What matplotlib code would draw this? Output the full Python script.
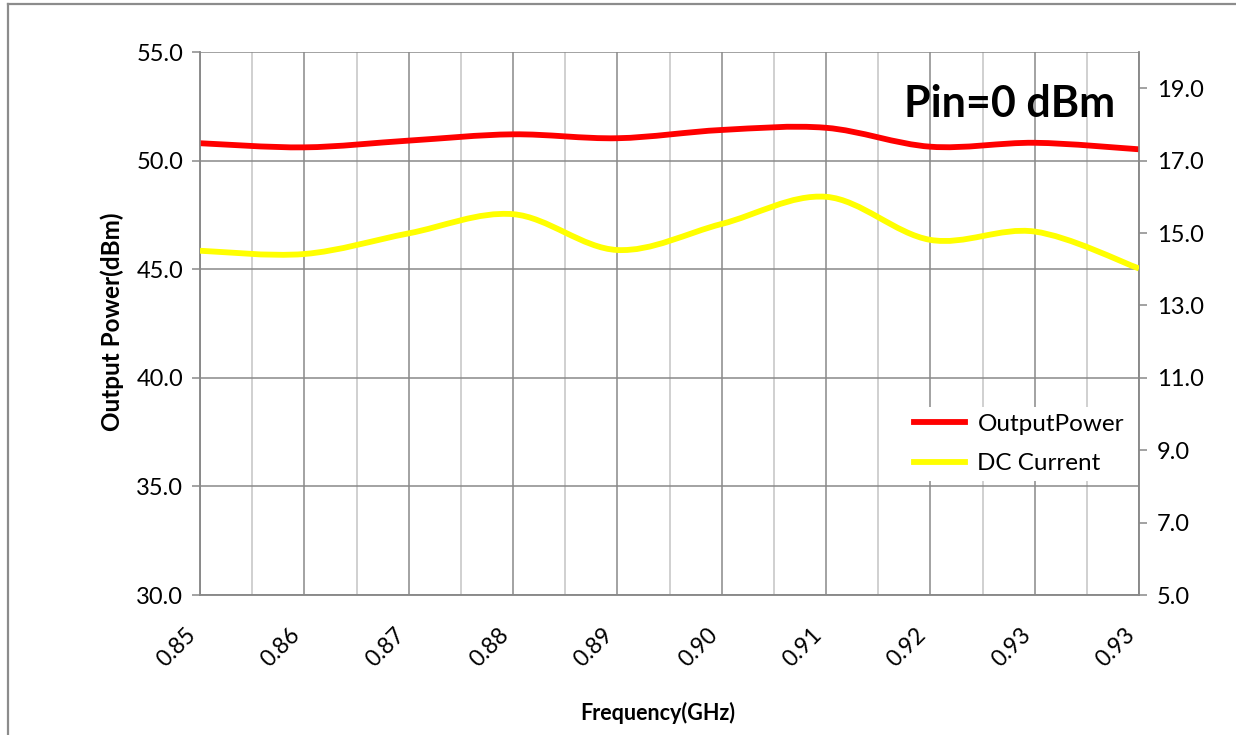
import matplotlib.pyplot as plt
import numpy as np
from matplotlib.path import Path
from matplotlib.patches import PathPatch
from matplotlib.lines import Line2D

# data
freq_labels = ['0.85', '0.86', '0.87', '0.88', '0.89', '0.90', '0.91', '0.92', '0.93', '0.93']
output_power = [50.80, 50.61, 50.92, 51.21, 51.03, 51.41, 51.51, 50.64, 50.82, 50.52]
dc_current = [14.51, 14.42, 14.99, 15.52, 14.53, 15.25, 16.00, 14.81, 15.04, 14.02]

plt.rcParams['font.family'] = ['Lato', 'DejaVu Sans']

MAJOR = '#898989'
MINOR = '#c4c4c4'


def smooth_path(xs, ys):
    # Excel style smoothed line: cubic bezier through the points
    pts = np.column_stack([xs, ys]).astype(float)
    n = len(pts)
    verts = [pts[0]]
    codes = [Path.MOVETO]
    for i in range(n - 1):
        p0 = pts[max(i - 1, 0)]
        p1 = pts[i]
        p2 = pts[i + 1]
        p3 = pts[min(i + 2, n - 1)]
        c1 = p1 + (p2 - p0) / 6.0
        c2 = p2 - (p3 - p1) / 6.0
        verts += [c1, c2, p2]
        codes += [Path.CURVE4] * 3
    return Path(verts, codes)


fig = plt.figure(figsize=(12.36, 7.35), dpi=100)
ax = fig.add_axes([200 / 1236, 140 / 735, 939 / 1236, 543 / 735])
ax2 = ax.twinx()

x = np.arange(len(freq_labels))

ax.set_xlim(0, len(freq_labels) - 1)
ax.set_ylim(30, 55)
ax2.set_ylim(5, 20)

ax.set_xticks(x)
ax.set_xticks(x[:-1] + 0.5, minor=True)
ax.set_xticklabels(freq_labels, rotation=45, ha='right', va='top')
ax.set_yticks(np.arange(30, 56, 5))
ax.set_yticklabels(['%.1f' % v for v in np.arange(30, 56, 5)])
ax2.set_yticks(np.arange(5, 20, 2))
ax2.set_yticklabels(['%.1f' % v for v in np.arange(5, 20, 2)])

# grid
ax.grid(True, which='major', axis='both', color=MAJOR, linewidth=1.1)
ax.grid(True, which='minor', axis='x', color=MINOR, linewidth=1.1)
ax.set_axisbelow(True)

ax.tick_params(axis='x', which='both', length=0, pad=21, labelsize=16.5, colors='black')
ax.tick_params(axis='y', length=6, width=1.1, color=MAJOR, pad=6, labelsize=17)
ax2.tick_params(axis='y', length=6, width=1.1, color=MAJOR, pad=7, labelsize=17)

for a in (ax, ax2):
    for s in a.spines.values():
        s.set_color(MAJOR)
        s.set_linewidth(1.1)
    a.spines['top'].set_visible(False)

# curves
ax.add_patch(PathPatch(smooth_path(x, output_power), fill=False, edgecolor='#ff0000',
                       linewidth=4.2, capstyle='butt', zorder=3))
ax2.add_patch(PathPatch(smooth_path(x, dc_current), fill=False, edgecolor='#ffff00',
                        linewidth=4.2, capstyle='butt', zorder=3))

handles = [Line2D([], [], color='#ff0000', linewidth=4.2),
           Line2D([], [], color='#ffff00', linewidth=4.2)]
leg = ax2.legend(handles, ['OutputPower', 'DC Current'], loc='center left',
                 bbox_to_anchor=(0.74, 0.278), fontsize=17.5, frameon=True,
                 handlelength=2.1, handletextpad=0.5, labelspacing=0.75,
                 borderpad=0.3, fancybox=False)
leg.get_frame().set_facecolor('white')
leg.get_frame().set_edgecolor('none')
leg.get_frame().set_alpha(1)

ax2.text(0.975, 0.905, 'Pin=0 dBm', transform=ax2.transAxes, ha='right', va='center',
         fontsize=31, fontweight='bold')

fig.text(112 / 1236, 1 - 322 / 735, 'Output Power(dBm)', rotation=90, ha='center',
         va='center', fontsize=17.5, fontweight='bold')
fig.text(658 / 1236, 1 - 713 / 735, 'Frequency(GHz)', ha='center', va='center',
         fontsize=15.5, fontweight='bold')

# outer border of the chart
fig.add_artist(Line2D([8 / 1236, 8 / 1236], [0, 1 - 3.5 / 735], color='#8c8c8c',
                      linewidth=1.6, transform=fig.transFigure))
fig.add_artist(Line2D([8 / 1236, 1], [1 - 3.5 / 735, 1 - 3.5 / 735], color='#8c8c8c',
                      linewidth=1.6, transform=fig.transFigure))

fig.savefig('out.png', dpi=100)
